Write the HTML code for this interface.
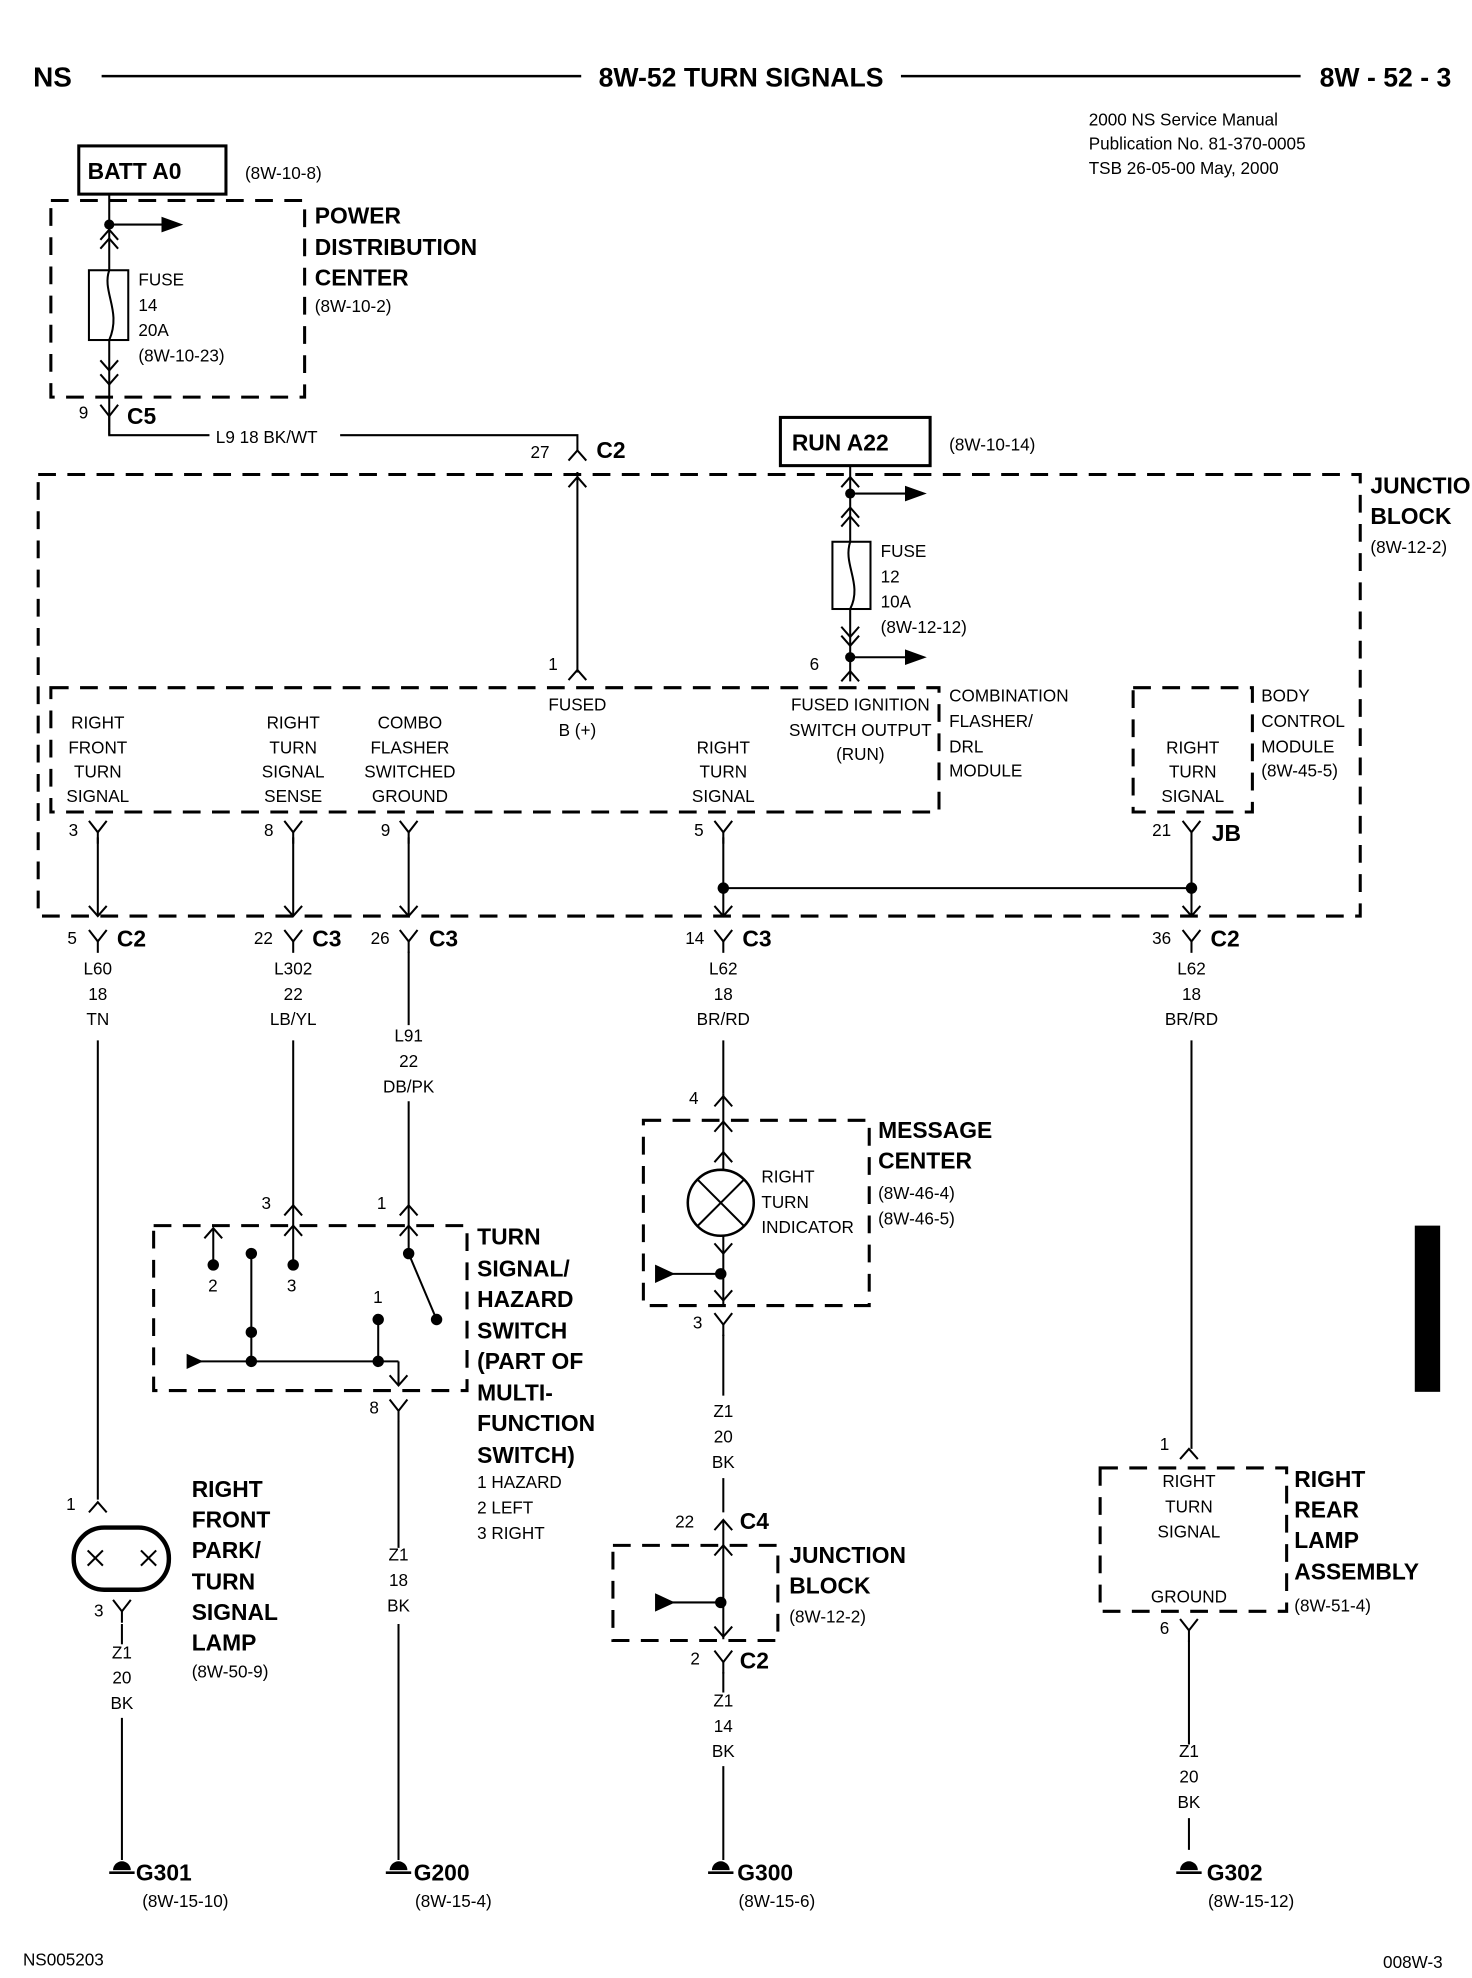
<!DOCTYPE html>
<html><head><meta charset="utf-8"><style>
html,body{margin:0;padding:0;background:#fff}
svg{display:block}
text{font-family:"Liberation Sans Narrow","Liberation Sans",sans-serif;fill:#000}
.s{font-size:13.5px}
.b{font-size:18px;font-weight:bold}
.c{text-anchor:middle}
</style></head><body>
<svg width="1472" height="1978" viewBox="0 0 1160 1559" xmlns="http://www.w3.org/2000/svg">
<defs>
<g id="Y"><polyline points="-7,-9 0,0 7,-9" fill="none" stroke="#000" stroke-width="1.6"/><line x1="0" y1="0" x2="0" y2="9" stroke="#000" stroke-width="1.6"/></g>
<g id="A"><polyline points="-7,8 0,0 7,8" fill="none" stroke="#000" stroke-width="1.6"/></g>
<g id="V"><polyline points="-7,-8 0,0 7,-8" fill="none" stroke="#000" stroke-width="1.6"/></g>
<g id="G"><path d="M-7,0 A7,7 0 0 1 7,0 Z" fill="#000"/><line x1="-10" y1="2" x2="10" y2="2" stroke="#000" stroke-width="2"/></g>
</defs>
<g stroke="#000" fill="none" stroke-width="1.6">
<line x1="80" y1="60" x2="458" y2="60" stroke-width="2"/>
<line x1="710" y1="60" x2="1025" y2="60" stroke-width="2"/>
<rect x="62" y="115" width="116" height="38" stroke-width="2.4"/>
<rect x="615" y="329" width="118" height="38" stroke-width="2.4"/>
<g stroke-dasharray="14,9" stroke-width="2.4">
<rect x="40" y="158" width="200" height="155"/>
<rect x="30" y="374" width="1042" height="348"/>
<rect x="40" y="542" width="700" height="98"/>
<rect x="893" y="542" width="94" height="98"/>
<rect x="507" y="883" width="178" height="146"/>
<rect x="121" y="966" width="247" height="130"/>
<rect x="483" y="1218" width="130" height="75"/>
<rect x="867" y="1157" width="147" height="113"/>
</g>
<line x1="86" y1="153" x2="86" y2="343"/>
<line x1="86" y1="177" x2="128" y2="177"/>
<polygon points="128,172 142,177 128,182" fill="#000"/>
<use href="#A" x="86" y="181"/><use href="#A" x="86" y="188"/>
<rect x="70" y="213" width="31" height="55" fill="#fff"/>
<path d="M86,213 C80,230 96,245 86,268"/>
<use href="#V" x="86" y="292"/><use href="#V" x="86" y="303"/>
<use href="#Y" x="86" y="328"/>
<polyline points="86,337 86,343 165,343"/>
<polyline points="268,343 455,343 455,355"/>
<use href="#A" x="455" y="355"/>
<line x1="455" y1="372" x2="455" y2="530"/>
<use href="#A" x="455" y="376"/>
<use href="#A" x="455" y="528"/>
<line x1="670" y1="367" x2="670" y2="537"/>
<use href="#A" x="670" y="376"/>
<line x1="670" y1="389" x2="714" y2="389"/><polygon points="714,384 728,389 714,394" fill="#000"/>
<use href="#A" x="670" y="400"/><use href="#A" x="670" y="407"/>
<rect x="656" y="427" width="30" height="53" fill="#fff"/>
<path d="M670,427 C664,445 680,460 670,480"/>
<use href="#V" x="670" y="502"/><use href="#V" x="670" y="509"/>
<line x1="670" y1="518" x2="714" y2="518"/><polygon points="714,513 728,518 714,523" fill="#000"/>
<use href="#A" x="670" y="529"/>
<use href="#Y" x="77" y="656"/><use href="#Y" x="231" y="656"/><use href="#Y" x="322" y="656"/><use href="#Y" x="570" y="656"/><use href="#Y" x="939" y="656"/>
<line x1="77" y1="660" x2="77" y2="722"/><line x1="231" y1="660" x2="231" y2="722"/><line x1="322" y1="660" x2="322" y2="722"/><line x1="570" y1="660" x2="570" y2="722"/><line x1="939" y1="660" x2="939" y2="722"/>
<use href="#V" x="77" y="722"/><use href="#V" x="231" y="722"/><use href="#V" x="322" y="722"/><use href="#V" x="570" y="722"/><use href="#V" x="939" y="722"/>
<line x1="570" y1="700" x2="939" y2="700"/>
<use href="#Y" x="77" y="742"/><use href="#Y" x="231" y="742"/><use href="#Y" x="322" y="742"/><use href="#Y" x="570" y="742"/><use href="#Y" x="939" y="742"/>
<line x1="77" y1="820" x2="77" y2="1182"/>
<line x1="231" y1="820" x2="231" y2="950"/>
<line x1="322" y1="750" x2="322" y2="808"/><line x1="322" y1="868" x2="322" y2="950"/>
<line x1="570" y1="820" x2="570" y2="862"/>
<line x1="939" y1="820" x2="939" y2="1142"/>
<use href="#A" x="231" y="950"/><use href="#A" x="322" y="950"/>
<line x1="231" y1="950" x2="231" y2="997"/><use href="#A" x="231" y="966"/>
<line x1="322" y1="950" x2="322" y2="988"/><use href="#A" x="322" y="966"/>
<line x1="168" y1="968" x2="168" y2="997"/><use href="#A" x="168" y="968"/>
<line x1="198" y1="988" x2="198" y2="1073"/>
<line x1="322" y1="988" x2="344" y2="1040"/>
<line x1="298" y1="1040" x2="298" y2="1073"/>
<line x1="150" y1="1073" x2="314" y2="1073"/><line x1="314" y1="1073" x2="314" y2="1092"/><use href="#V" x="314" y="1092"/>
<use href="#Y" x="314" y="1112"/>
<line x1="314" y1="1120" x2="314" y2="1220"/><line x1="314" y1="1280" x2="314" y2="1466"/>
<use href="#A" x="77" y="1184"/>
<rect x="58" y="1204" width="75" height="49" rx="24" stroke-width="3.5"/>
<use href="#Y" x="96" y="1270"/>
<line x1="96" y1="1280" x2="96" y2="1296"/><line x1="96" y1="1354" x2="96" y2="1466"/>
<use href="#A" x="570" y="864"/><use href="#A" x="570" y="884"/><use href="#A" x="570" y="908"/>
<line x1="570" y1="862" x2="570" y2="922"/>
<circle cx="568" cy="948" r="26" stroke-width="2"/>
<line x1="550" y1="930" x2="586" y2="966"/><line x1="586" y1="930" x2="550" y2="966"/>
<line x1="570" y1="974" x2="570" y2="1028"/>
<use href="#V" x="570" y="988"/><use href="#V" x="570" y="1025"/>
<line x1="520" y1="1004" x2="570" y2="1004"/><polygon points="517,998 530,1004 517,1010" fill="#000"/>
<use href="#Y" x="570" y="1044"/>
<line x1="570" y1="1052" x2="570" y2="1100"/><line x1="570" y1="1165" x2="570" y2="1192"/>
<use href="#A" x="570" y="1198"/><use href="#A" x="570" y="1218"/>
<line x1="570" y1="1198" x2="570" y2="1292"/><use href="#V" x="570" y="1290"/>
<line x1="520" y1="1263" x2="570" y2="1263"/><polygon points="517,1257 530,1263 517,1269" fill="#000"/>
<use href="#Y" x="570" y="1310"/>
<line x1="570" y1="1318" x2="570" y2="1334"/><line x1="570" y1="1392" x2="570" y2="1466"/>
<use href="#A" x="937" y="1142"/>
<use href="#Y" x="937" y="1285"/>
<line x1="937" y1="1293" x2="937" y2="1375"/><line x1="937" y1="1433" x2="937" y2="1458"/>
</g>
<g fill="#000">
<circle cx="86" cy="177" r="4"/><circle cx="670" cy="389" r="4"/><circle cx="670" cy="518" r="4"/>
<circle cx="570" cy="700" r="4.5"/><circle cx="939" cy="700" r="4.5"/>
<circle cx="168" cy="997" r="4.5"/><circle cx="198" cy="988" r="4.5"/><circle cx="231" cy="997" r="4.5"/>
<circle cx="322" cy="988" r="4.5"/><circle cx="344" cy="1040" r="4.5"/><circle cx="298" cy="1040" r="4.5"/>
<circle cx="198" cy="1050" r="4.5"/><circle cx="198" cy="1073" r="4.5"/><circle cx="298" cy="1073" r="4.5"/>
<polygon points="147,1067 160,1073 147,1079"/>
<circle cx="568" cy="1004" r="4.5"/><circle cx="568" cy="1263" r="4.5"/>
<rect x="1115" y="966" width="20" height="131"/>
</g>
<g stroke="#000" stroke-width="1.6"><line x1="69" y1="1222" x2="81" y2="1234"/><line x1="81" y1="1222" x2="69" y2="1234"/><line x1="111" y1="1222" x2="123" y2="1234"/><line x1="123" y1="1222" x2="111" y2="1234"/></g>
<use href="#G" x="96" y="1474"/><use href="#G" x="314" y="1474"/><use href="#G" x="568" y="1474"/><use href="#G" x="937" y="1474"/>

<text x="26" y="68" style="font-size:22px;font-weight:bold">NS</text>
<text x="584" y="68" class="c" style="font-size:21px;font-weight:bold">8W-52 TURN SIGNALS</text>
<text x="1040" y="68" style="font-size:21px;font-weight:bold">8W - 52 - 3</text>
<text x="858" y="99" class="s">2000 NS Service Manual</text>
<text x="858" y="118" class="s">Publication No. 81-370-0005</text>
<text x="858" y="137" class="s">TSB 26-05-00   May, 2000</text>
<text x="69" y="141" class="b">BATT A0</text>
<text x="193" y="141" class="s">(8W-10-8)</text>
<text x="248" y="176" class="b">POWER</text><text x="248" y="201" class="b">DISTRIBUTION</text><text x="248" y="225" class="b">CENTER</text>
<text x="248" y="246" class="s">(8W-10-2)</text>
<text x="109" y="225" class="s">FUSE</text><text x="109" y="245" class="s">14</text><text x="109" y="265" class="s">20A</text><text x="109" y="285" class="s">(8W-10-23)</text>
<text x="62" y="330" class="s">9</text><text x="100" y="334" class="b">C5</text>
<text x="170" y="349" class="s">L9   18 BK/WT</text>
<text x="418" y="361" class="s">27</text><text x="470" y="361" class="b">C2</text>
<text x="624" y="355" class="b">RUN A22</text><text x="748" y="355" class="s">(8W-10-14)</text>
<text x="1080" y="389" class="b">JUNCTION</text><text x="1080" y="413" class="b">BLOCK</text><text x="1080" y="436" class="s">(8W-12-2)</text>
<text x="694" y="439" class="s">FUSE</text><text x="694" y="459" class="s">12</text><text x="694" y="479" class="s">10A</text><text x="694" y="499" class="s">(8W-12-12)</text>
<text x="432" y="528" class="s">1</text><text x="638" y="528" class="s">6</text>
<text x="455" y="560" class="s c">FUSED</text><text x="455" y="580" class="s c">B (+)</text>
<text x="678" y="560" class="s c">FUSED IGNITION</text><text x="678" y="580" class="s c">SWITCH OUTPUT</text><text x="678" y="599" class="s c">(RUN)</text>
<text x="748" y="553" class="s">COMBINATION</text><text x="748" y="573" class="s">FLASHER/</text><text x="748" y="593" class="s">DRL</text><text x="748" y="612" class="s">MODULE</text>
<text x="994" y="553" class="s">BODY</text><text x="994" y="573" class="s">CONTROL</text><text x="994" y="593" class="s">MODULE</text><text x="994" y="612" class="s">(8W-45-5)</text>
<text x="77" y="574" class="s c">RIGHT</text><text x="77" y="594" class="s c">FRONT</text><text x="77" y="613" class="s c">TURN</text><text x="77" y="632" class="s c">SIGNAL</text>
<text x="231" y="574" class="s c">RIGHT</text><text x="231" y="594" class="s c">TURN</text><text x="231" y="613" class="s c">SIGNAL</text><text x="231" y="632" class="s c">SENSE</text>
<text x="323" y="574" class="s c">COMBO</text><text x="323" y="594" class="s c">FLASHER</text><text x="323" y="613" class="s c">SWITCHED</text><text x="323" y="632" class="s c">GROUND</text>
<text x="570" y="594" class="s c">RIGHT</text><text x="570" y="613" class="s c">TURN</text><text x="570" y="632" class="s c">SIGNAL</text>
<text x="940" y="594" class="s c">RIGHT</text><text x="940" y="613" class="s c">TURN</text><text x="940" y="632" class="s c">SIGNAL</text>
<text x="54" y="659" class="s">3</text><text x="208" y="659" class="s">8</text><text x="300" y="659" class="s">9</text><text x="547" y="659" class="s">5</text><text x="908" y="659" class="s">21</text><text x="955" y="663" class="b">JB</text>
<text x="53" y="744" class="s">5</text><text x="92" y="746" class="b">C2</text>
<text x="200" y="744" class="s">22</text><text x="246" y="746" class="b">C3</text>
<text x="292" y="744" class="s">26</text><text x="338" y="746" class="b">C3</text>
<text x="540" y="744" class="s">14</text><text x="585" y="746" class="b">C3</text>
<text x="908" y="744" class="s">36</text><text x="954" y="746" class="b">C2</text>
<text x="77" y="768" class="s c">L60</text><text x="77" y="788" class="s c">18</text><text x="77" y="808" class="s c">TN</text>
<text x="231" y="768" class="s c">L302</text><text x="231" y="788" class="s c">22</text><text x="231" y="808" class="s c">LB/YL</text>
<text x="322" y="821" class="s c">L91</text><text x="322" y="841" class="s c">22</text><text x="322" y="861" class="s c">DB/PK</text>
<text x="570" y="768" class="s c">L62</text><text x="570" y="788" class="s c">18</text><text x="570" y="808" class="s c">BR/RD</text>
<text x="939" y="768" class="s c">L62</text><text x="939" y="788" class="s c">18</text><text x="939" y="808" class="s c">BR/RD</text>
<text x="543" y="870" class="s">4</text>
<text x="692" y="897" class="b">MESSAGE</text><text x="692" y="921" class="b">CENTER</text><text x="692" y="945" class="s">(8W-46-4)</text><text x="692" y="965" class="s">(8W-46-5)</text>
<text x="600" y="932" class="s">RIGHT</text><text x="600" y="952" class="s">TURN</text><text x="600" y="972" class="s">INDICATOR</text>
<text x="206" y="953" class="s">3</text><text x="297" y="953" class="s">1</text>
<text x="164" y="1018" class="s">2</text><text x="226" y="1018" class="s">3</text><text x="294" y="1027" class="s">1</text>
<text x="376" y="981" class="b">TURN</text><text x="376" y="1006" class="b">SIGNAL/</text><text x="376" y="1030" class="b">HAZARD</text><text x="376" y="1055" class="b">SWITCH</text><text x="376" y="1079" class="b">(PART OF</text><text x="376" y="1104" class="b">MULTI-</text><text x="376" y="1128" class="b">FUNCTION</text><text x="376" y="1153" class="b">SWITCH)</text>
<text x="376" y="1173" class="s">1 HAZARD</text><text x="376" y="1193" class="s">2 LEFT</text><text x="376" y="1213" class="s">3 RIGHT</text>
<text x="291" y="1114" class="s">8</text>
<text x="546" y="1047" class="s">3</text>
<text x="570" y="1117" class="s c">Z1</text><text x="570" y="1137" class="s c">20</text><text x="570" y="1157" class="s c">BK</text>
<text x="314" y="1230" class="s c">Z1</text><text x="314" y="1250" class="s c">18</text><text x="314" y="1270" class="s c">BK</text>
<text x="52" y="1190" class="s">1</text>
<text x="151" y="1180" class="b">RIGHT</text><text x="151" y="1204" class="b">FRONT</text><text x="151" y="1228" class="b">PARK/</text><text x="151" y="1253" class="b">TURN</text><text x="151" y="1277" class="b">SIGNAL</text><text x="151" y="1301" class="b">LAMP</text><text x="151" y="1322" class="s">(8W-50-9)</text>
<text x="74" y="1274" class="s">3</text>
<text x="96" y="1307" class="s c">Z1</text><text x="96" y="1327" class="s c">20</text><text x="96" y="1347" class="s c">BK</text>
<text x="532" y="1204" class="s">22</text><text x="583" y="1205" class="b">C4</text>
<text x="622" y="1232" class="b">JUNCTION</text><text x="622" y="1256" class="b">BLOCK</text><text x="622" y="1279" class="s">(8W-12-2)</text>
<text x="544" y="1312" class="s">2</text><text x="583" y="1315" class="b">C2</text>
<text x="570" y="1345" class="s c">Z1</text><text x="570" y="1365" class="s c">14</text><text x="570" y="1385" class="s c">BK</text>
<text x="914" y="1143" class="s">1</text>
<text x="937" y="1172" class="s c">RIGHT</text><text x="937" y="1192" class="s c">TURN</text><text x="937" y="1212" class="s c">SIGNAL</text><text x="937" y="1263" class="s c">GROUND</text>
<text x="1020" y="1172" class="b">RIGHT</text><text x="1020" y="1196" class="b">REAR</text><text x="1020" y="1220" class="b">LAMP</text><text x="1020" y="1245" class="b">ASSEMBLY</text><text x="1020" y="1270" class="s">(8W-51-4)</text>
<text x="914" y="1288" class="s">6</text>
<text x="937" y="1385" class="s c">Z1</text><text x="937" y="1405" class="s c">20</text><text x="937" y="1425" class="s c">BK</text>
<text x="107" y="1482" class="b">G301</text><text x="112" y="1503" class="s">(8W-15-10)</text>
<text x="326" y="1482" class="b">G200</text><text x="327" y="1503" class="s">(8W-15-4)</text>
<text x="581" y="1482" class="b">G300</text><text x="582" y="1503" class="s">(8W-15-6)</text>
<text x="951" y="1482" class="b">G302</text><text x="952" y="1503" class="s">(8W-15-12)</text>
<text x="18" y="1549" class="s">NS005203</text>
<text x="1090" y="1551" class="s">008W-3</text>
</svg>
</body></html>
